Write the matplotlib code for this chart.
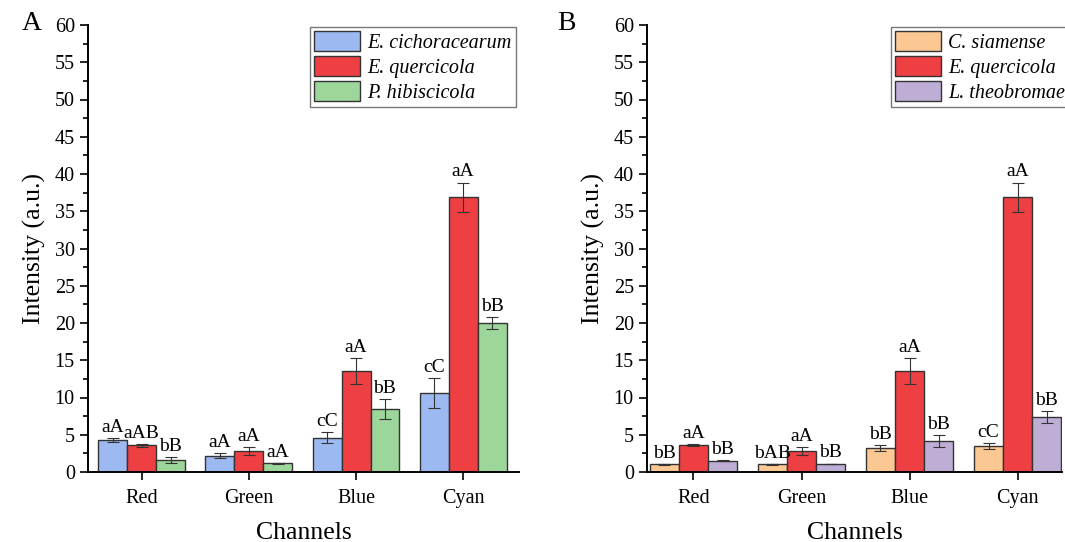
import matplotlib
matplotlib.use("Agg")
import matplotlib.pyplot as plt
import numpy as np
from matplotlib.ticker import MultipleLocator

plt.rcParams['font.family'] = ['Liberation Serif', 'DejaVu Serif']

channels = ["Red", "Green", "Blue", "Cyan"]

# Panel A
a_names = ["E. cichoracearum", "E. quercicola", "P. hibiscicola"]
a_vals = [[4.3, 2.2, 4.6, 10.6],
          [3.6, 2.8, 13.5, 36.9],
          [1.6, 1.15, 8.4, 20.05]]
a_errs = [[0.27, 0.36, 0.77, 2.05],
          [0.2, 0.56, 1.75, 1.95],
          [0.4, 0.05, 1.34, 0.8]]
a_labels = [["aA", "aA", "cC", "cC"],
            ["aAB", "aA", "aA", "aA"],
            ["bB", "aA", "bB", "bB"]]
a_colors = ["#9DB9F2", "#EE3F42", "#9DD69B"]

# Panel B
b_names = ["C. siamense", "E. quercicola", "L. theobromae"]
b_vals = [[1.03, 1.03, 3.27, 3.49],
          [3.6, 2.8, 13.5, 36.9],
          [1.52, 1.1, 4.16, 7.34]]
b_errs = [[0.03, 0.03, 0.4, 0.45],
          [0.15, 0.5, 1.75, 1.95],
          [0.05, 0.03, 0.85, 0.8]]
b_labels = [["bB", "bAB", "bB", "cC"],
            ["aA", "aA", "aA", "aA"],
            ["bB", "bB", "bB", "bB"]]
b_colors = ["#FBC894", "#EE3F42", "#BEAED6"]

fig = plt.figure(figsize=(10.65, 5.42), dpi=100)
axA = fig.add_axes([88/1065, 1-472/542, (519-88)/1065, (472-25)/542])
axB = fig.add_axes([647/1065, 1-472/542, (1062-647)/1065, (472-25)/542])

width = 0.27
x = np.arange(len(channels))

def draw(ax, names, vals, errs, labels, colors, xlim):
    for i, (nm, v, e, lab, c) in enumerate(zip(names, vals, errs, labels, colors)):
        pos = x + (i - 1) * width
        ax.bar(pos, v, width, color=c, edgecolor="#333333", linewidth=1.0,
               label=nm, zorder=2)
        ax.errorbar(pos, v, yerr=e, fmt="none", ecolor="#333333",
                    elinewidth=0.8, capsize=4, capthick=0.8, zorder=3)
        for px, vv, ee, ll in zip(pos, v, e, lab):
            ax.annotate(ll, (px, vv + ee), xytext=(0, 1.5), textcoords="offset points",
                        ha="center", va="bottom", fontsize=14)
    ax.set_xlim(*xlim)
    ax.set_ylim(0, 60)
    ax.set_xticks(x)
    ax.set_xticklabels(channels, fontsize=14.5)
    ax.yaxis.set_major_locator(MultipleLocator(5))
    ax.yaxis.set_minor_locator(MultipleLocator(2.5))
    ax.tick_params(axis="y", which="major", direction="out", length=6, width=1.2, labelsize=14.5)
    ax.tick_params(axis="y", which="minor", direction="out", length=3.5, width=1.2)
    ax.tick_params(axis="x", direction="out", length=6, width=1.2, labelsize=14.5, pad=6)
    for s in ["top", "right"]:
        ax.spines[s].set_visible(False)
    for s in ["left", "bottom"]:
        ax.spines[s].set_linewidth(1.4)
    ax.set_xlabel("Channels", fontsize=18.5, labelpad=10)
    ax.set_ylabel("Intensity (a.u.)", fontsize=18.5, labelpad=6)

draw(axA, a_names, a_vals, a_errs, a_labels, a_colors, (-0.5, 3.52))
draw(axB, b_names, b_vals, b_errs, b_labels, b_colors, (-0.43, 3.41))

def legend(ax, x0):
    leg = ax.legend(loc="upper left", bbox_to_anchor=(x0/1065, 1-27/542),
                    bbox_transform=fig.transFigure, prop={"style": "italic", "size": 14.5},
                    frameon=True, fancybox=False, edgecolor="#555555",
                    borderpad=0.2, labelspacing=0.15, handlelength=2.3,
                    handleheight=1.15, handletextpad=0.35, borderaxespad=0)
    leg.get_frame().set_linewidth(1.0)

legend(axA, 310)
legend(axB, 891)

fig.text(22/1065, 1-23/542, "A", fontsize=20, ha="left", va="center")
fig.text(557/1065, 1-23/542, "B", fontsize=20, ha="left", va="center")

fig.savefig("out.png", dpi=100)
